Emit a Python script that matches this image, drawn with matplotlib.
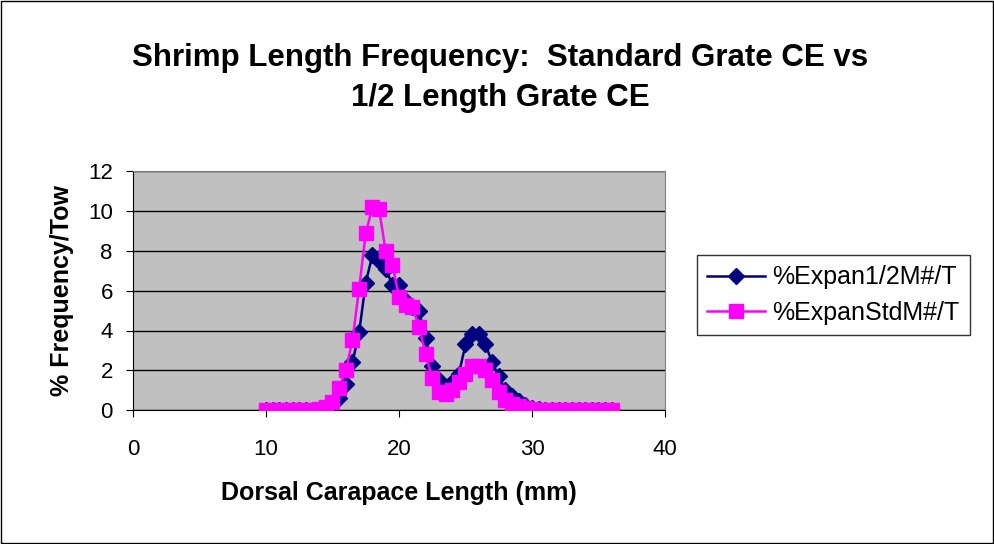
import numpy as np
import matplotlib.pyplot as plt
from matplotlib.patches import Rectangle

plt.rcParams['font.family'] = ['Liberation Sans', 'DejaVu Sans']

# carapace length classes (mm)
lengths = np.arange(10, 36.01, 0.5)

# %Expan1/2M#/T (half length grate)
half_grate = [0.02, 0.02, 0.02, 0.02, 0.02, 0.02, 0.02, 0.02, 0.02,   # 10-14
              0.1, 0.3, 0.6, 1.3, 2.4, 3.9, 6.4, 7.8, 7.5,              # 14.5-18.5
              7.1, 6.3, 6.3, 5.5, 5.2, 5.0, 3.6, 2.2, 1.5,              # 19-23
              1.1, 1.4, 1.8, 3.3, 3.8, 3.8, 3.3, 2.4, 1.7,              # 23.5-27.5
              1.0, 0.7, 0.45, 0.25, 0.1, 0.05, 0.02, 0.02, 0.02,        # 28-32
              0.02, 0.02, 0.02, 0.02, 0.02, 0.02, 0.02, 0.02]           # 32.5-36

# %ExpanStdM#/T (standard grate)
std_grate = [0.02, 0.02, 0.02, 0.02, 0.02, 0.02, 0.02, 0.02, 0.05,
             0.15, 0.4, 1.1, 2.0, 3.5, 6.1, 8.9, 10.2, 10.1,
             8.0, 7.3, 5.7, 5.3, 5.2, 4.2, 2.8, 1.6, 0.9,
             0.8, 1.0, 1.4, 1.8, 2.2, 2.2, 2.0, 1.5, 0.9,
             0.5, 0.3, 0.2, 0.1, 0.05, 0.02, 0.02, 0.02, 0.02,
             0.02, 0.02, 0.02, 0.02, 0.02, 0.02, 0.02, 0.02]

fig = plt.figure(figsize=(9.95, 5.44), dpi=100)
ax = fig.add_axes([133 / 995, 1 - 410 / 544, (665 - 133) / 995, (410 - 171.5) / 544])
ax.set_facecolor('#C0C0C0')

ax.plot(lengths, half_grate, color='#000080', marker='D', markersize=8,
        linewidth=1.8, label='%Expan1/2M#/T', zorder=3)
ax.plot(lengths, std_grate, color='#FF00FF', marker='s', markersize=10,
        linewidth=1.8, label='%ExpanStdM#/T', zorder=4)

ax.set_xlim(0, 40)
ax.set_ylim(0, 12)
ax.set_xticks([0, 10, 20, 30, 40])
ax.set_yticks(range(0, 13, 2))
ax.yaxis.grid(True, color='black', linewidth=1)
ax.set_axisbelow(True)
ax.tick_params(labelsize=16, length=5, direction='out', color='black')
ax.tick_params(axis='x', pad=16)
ax.tick_params(axis='y', pad=9.5)

for side in ['top', 'right']:
    ax.spines[side].set_color('#808080')
for side in ['left', 'bottom']:
    ax.spines[side].set_color('black')

ax.set_xlabel('Dorsal Carapace Length (mm)', fontsize=18, fontweight='bold', labelpad=15)
ax.set_ylabel('% Frequency/Tow', fontsize=18, fontweight='bold', labelpad=10)

fig.text(0.503, 1 - 78 / 544, 'Shrimp Length Frequency:  Standard Grate CE vs\n1/2 Length Grate CE',
         ha='center', va='center', fontsize=22.5, fontweight='bold', linespacing=1.4)

leg = ax.legend(loc='center left', bbox_to_anchor=(697 / 995, 1 - 295 / 544),
                bbox_transform=fig.transFigure, fontsize=18, frameon=True,
                fancybox=False, edgecolor='black', handlelength=2.3,
                borderpad=0.42, labelspacing=0.45, handletextpad=0.3,
                borderaxespad=0)
leg.get_frame().set_linewidth(1)

fig.patches.append(Rectangle((0.001, 0.001), 0.997, 0.997, transform=fig.transFigure,
                             fill=False, edgecolor='black', linewidth=1))

fig.savefig('out.png', dpi=100)
